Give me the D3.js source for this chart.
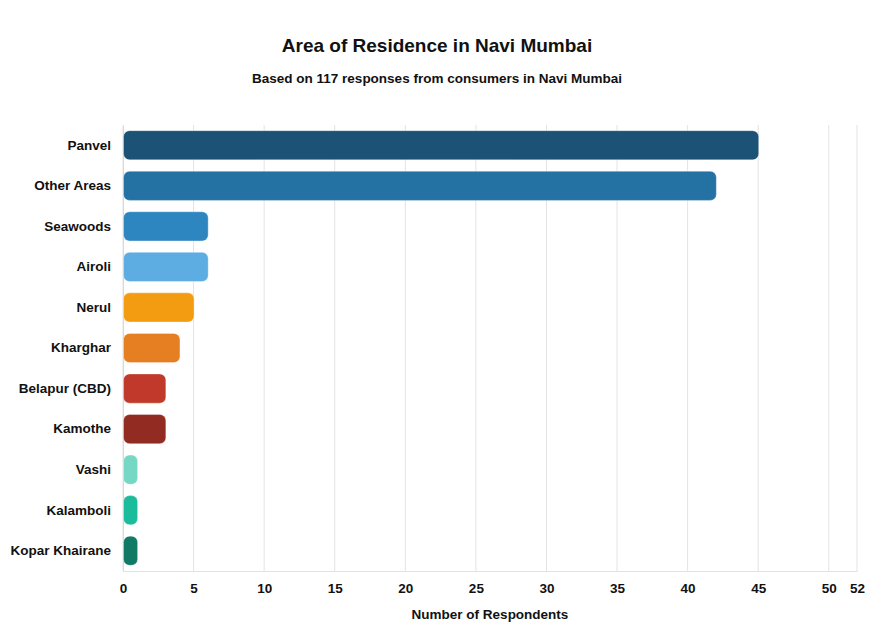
<!DOCTYPE html>
<html>
<head>
<meta charset="utf-8">
<script src="https://cdn.jsdelivr.net/npm/d3@7"></script>
<style>
  html, body { margin: 0; padding: 0; background: #fff; }
  svg { display: block; font-family: "Liberation Sans", Arial, Helvetica, sans-serif; }
</style>
</head>
<body>
<svg id="chart" width="890" height="637"></svg>
<script>
// Residence areas and respondent counts
const areas = ["Panvel", "Other Areas", "Seawoods", "Airoli", "Nerul", "Kharghar",
  "Belapur (CBD)", "Kamothe", "Vashi", "Kalamboli", "Kopar Khairane"];
const respondents = [45, 42, 6, 6, 5, 4, 3, 3, 1, 1, 1];
const barColors = ["#1b5276", "#2471a3", "#2e86c1", "#5dade2", "#f39c12", "#e67e22",
  "#c0392b", "#922b21", "#76d7c4", "#1abc9c", "#117a65"];
const xTicks = [0, 5, 10, 15, 20, 25, 30, 35, 40, 45, 50, 52];
const xMax = 52;

const svg = d3.select("#chart");
const margin = { top: 125, right: 33, bottom: 66, left: 123 };
const width = 890 - margin.left - margin.right;
const height = 637 - margin.top - margin.bottom;
const labelFont = "'Liberation Sans', Arial, sans-serif";

const rows = areas.map((a, i) => ({ area: a, value: respondents[i], color: barColors[i] }));

const x = d3.scaleLinear().domain([0, xMax]).range([0, width]);
const y = d3.scaleBand().domain(areas).range([0, height]).paddingInner(0.28).paddingOuter(0.14);

// Titles
svg.append("text")
  .attr("x", 437).attr("y", 52)
  .attr("text-anchor", "middle")
  .attr("font-size", 19).attr("font-weight", "bold").attr("fill", "#111")
  .text("Area of Residence in Navi Mumbai");
svg.append("text")
  .attr("x", 437).attr("y", 83)
  .attr("text-anchor", "middle")
  .attr("font-size", 13.5).attr("font-weight", "bold").attr("fill", "#111")
  .text("Based on 117 responses from consumers in Navi Mumbai");

const g = svg.append("g").attr("transform", `translate(${margin.left},${margin.top})`);

// Vertical gridlines
g.append("g")
  .selectAll("line")
  .data(xTicks)
  .join("line")
  .attr("x1", d => x(d)).attr("x2", d => x(d))
  .attr("y1", 0).attr("y2", height)
  .attr("stroke", "#e3e3e3").attr("stroke-width", 1);

// X axis
const xAxis = g.append("g")
  .attr("transform", `translate(0,${height})`)
  .call(d3.axisBottom(x).tickValues(xTicks).tickSize(0).tickPadding(12).tickFormat(d3.format("d")));
xAxis.select(".domain").attr("stroke", "#e3e3e3");
xAxis.selectAll("text").attr("font-size", 13.5).attr("font-weight", "bold").attr("fill", "#111")
  .attr("font-family", labelFont);

// Y axis
const yAxis = g.append("g")
  .call(d3.axisLeft(y).tickSize(0).tickPadding(12));
yAxis.select(".domain").attr("stroke", "#d9d9d9");
yAxis.selectAll("text").attr("font-size", 13.5).attr("font-weight", "bold").attr("fill", "#111")
  .attr("font-family", labelFont);

// Bars
g.append("g")
  .selectAll("rect")
  .data(rows)
  .join("rect")
  .attr("x", x(0) + 0.5)
  .attr("y", d => y(d.area))
  .attr("width", d => x(d.value) - x(0))
  .attr("height", y.bandwidth())
  .attr("rx", 6).attr("ry", 6)
  .attr("fill", d => d.color)
  .attr("stroke", "rgba(255,255,255,0.35)")
  .attr("stroke-width", 1);

// Axis title
svg.append("text")
  .attr("x", margin.left + width / 2).attr("y", 619)
  .attr("text-anchor", "middle")
  .attr("font-size", 13.5).attr("font-weight", "bold").attr("fill", "#111")
  .text("Number of Respondents");
</script>
</body>
</html>
